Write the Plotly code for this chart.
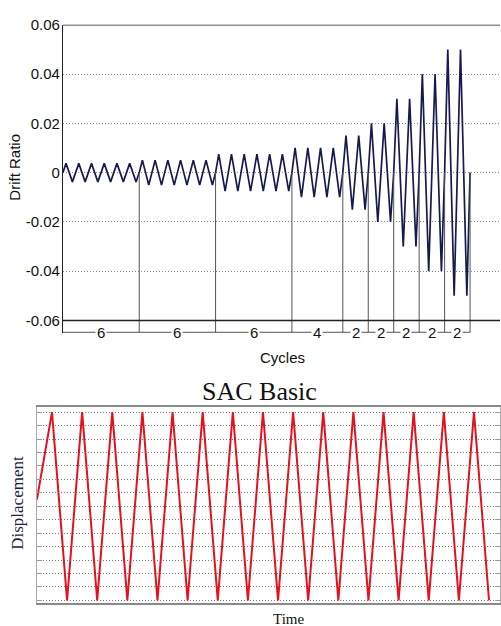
import plotly.graph_objects as go

# ---------------- data ----------------
# Top chart: loading protocol (cycles per step, drift-ratio amplitude per step)
step_cycles = [6, 6, 6, 4, 2, 2, 2, 2, 2]
step_amplitudes = [0.00375, 0.005, 0.0075, 0.01, 0.015, 0.02, 0.03, 0.04, 0.05]
drift_ticks = [0.06, 0.04, 0.02, 0, -0.02, -0.04, -0.06]
drift_tick_text = ["0.06", "0.04", "0.02", "0", "-0.02", "-0.04", "-0.06"]

# Bottom chart: SAC Basic displacement history (time in half-periods)
sac_time = list(range(31))
sac_disp = [0.5, 7, -7, 7, -7, 7, -7, 7, -7, 7, -7, 7, -7, 7, -7, 7,
            -7, 7, -7, 7, -7, 7, -7, 7, -7, 7, -7, 7, -7, 7, -7]
sac_grid = list(range(-7, 8))

# ---------------- build drift history from protocol ----------------
cyc_x, drift_y = [0.0], [0.0]
t = 0.0
boundaries = [0]
for n, a in zip(step_cycles, step_amplitudes):
    for _ in range(n):
        cyc_x += [t + 0.25, t + 0.5, t + 0.75, t + 1.0]
        drift_y += [a, 0.0, -a, 0.0]
        t += 1.0
    boundaries.append(t)
mids = [(boundaries[i] + boundaries[i + 1]) / 2 for i in range(len(step_cycles))]

W, H = 501, 626
LBL_Y = -0.0648

fig = go.Figure()

# top chart traces
fig.add_trace(go.Scatter(x=cyc_x, y=drift_y, mode="lines",
                         line=dict(color="#151a50", width=1.7),
                         xaxis="x", yaxis="y", showlegend=False, hoverinfo="skip"))
vx, vy = [], []
for b in boundaries[1:]:
    vx += [b, b, None]
    vy += [0, LBL_Y, None]
fig.add_trace(go.Scatter(x=vx, y=vy, mode="lines",
                         line=dict(color="#555555", width=1),
                         xaxis="x", yaxis="y", showlegend=False, hoverinfo="skip"))
fig.add_trace(go.Scatter(x=[0, boundaries[-1]], y=[LBL_Y, LBL_Y], mode="lines",
                         line=dict(color="#555555", width=1),
                         xaxis="x", yaxis="y", showlegend=False, hoverinfo="skip"))

# bottom chart trace
fig.add_trace(go.Scatter(x=sac_time, y=sac_disp, mode="lines",
                         line=dict(color="#e3121c", width=2),
                         xaxis="x2", yaxis="y2", showlegend=False, hoverinfo="skip"))

arial = "Liberation Sans, Arial, sans-serif"
times = "Liberation Serif, Times New Roman, serif"

fig.update_layout(
    width=W, height=H,
    margin=dict(l=0, r=0, t=0, b=0),
    paper_bgcolor="white", plot_bgcolor="white",
    xaxis=dict(domain=[63 / W, 1], range=[0, 438 / 12.75],
               showgrid=False, zeroline=False, showticklabels=False,
               showline=False, ticks=""),
    yaxis=dict(domain=[(H - 329) / H, (H - 16) / H], range=[-0.0652, 0.06],
               tickvals=drift_ticks, ticktext=drift_tick_text,
               tickfont=dict(family=arial, size=15, color="#111"),
               ticklabelstandoff=-1,
               showgrid=True, gridcolor="#8a8a8a", griddash="1px,2px", gridwidth=1,
               zeroline=False, showline=True, linecolor="#222", linewidth=1,
               ticks=""),
    xaxis2=dict(domain=[37 / W, 1], range=[0, (W - 37) / 15.1],
                showgrid=False, zeroline=False, showticklabels=False, ticks="",
                showline=True, mirror=True, linecolor="#8a8a8a", linewidth=2,
                anchor="y2"),
    yaxis2=dict(domain=[(H - 603) / H, (H - 404) / H], range=[-7.22, 7.37],
                tickvals=sac_grid, showticklabels=False,
                showgrid=True, gridcolor="#7a7a7a", griddash="1px,2px", gridwidth=1,
                zeroline=False, showline=True, linecolor="#aaaaaa", linewidth=1,
                mirror="ticks", ticks="inside", ticklen=5, tickcolor="#999999",
                anchor="x2"),
)

# top chart borders at +/-0.06
for yv in (0.06, -0.06):
    fig.add_shape(type="line", xref="x domain", yref="y", x0=0, x1=1, y0=yv, y1=yv,
                  line=dict(color="#222", width=1.5))

# cycle count labels
for m, n in zip(mids, step_cycles):
    fig.add_annotation(x=m, y=LBL_Y, xref="x", yref="y", text=str(n), showarrow=False,
                       xanchor="center", yanchor="middle",
                       font=dict(family=arial, size=15, color="#111"),
                       bgcolor="white", borderpad=1)

def label(x, y, text, font, angle=0):
    fig.add_annotation(x=x / W, y=(H - y) / H, xref="paper", yref="paper",
                       text=text, textangle=angle, showarrow=False,
                       xanchor="center", yanchor="middle", font=font)

label(15, 160, "Drift Ratio", dict(family=arial, size=15, color="#111"), -90)
label(283, 354, "Cycles", dict(family=arial, size=15, color="#111"))
label(260, 388, "SAC Basic", dict(family=times, size=26, color="#111"))
label(18, 501, "Displacement", dict(family=times, size=17, color="#1c2344"), -90)
label(289, 619, "Time", dict(family=times, size=15, color="#111"))

fig.write_html("out.html")
